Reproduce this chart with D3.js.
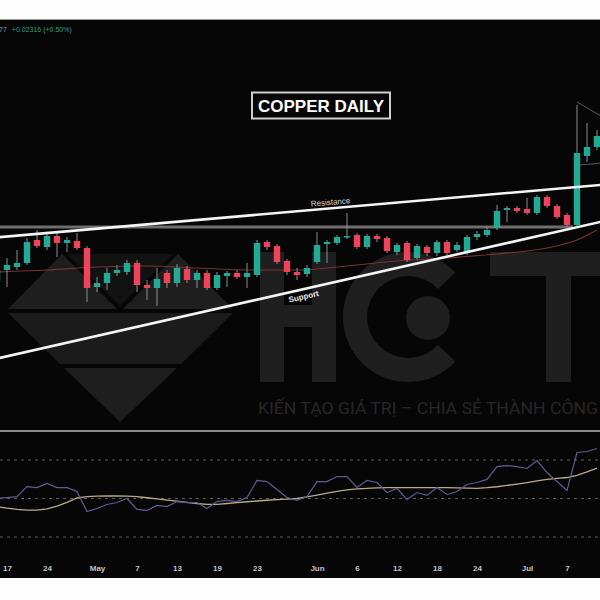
<!DOCTYPE html>
<html><head><meta charset="utf-8">
<script src="https://cdn.jsdelivr.net/npm/d3@7/dist/d3.min.js"></script>
<style>html,body{margin:0;padding:0;background:#fff;} svg{display:block;}</style>
</head><body><svg id="c" width="600" height="600"></svg>
<script>
// ---- DATA ----
const dates = ["Apr 16","Apr 17","Apr 21","Apr 22","Apr 23","Apr 24","Apr 25","Apr 28","Apr 29","Apr 30",
"May 1","May 2","May 5","May 6","May 7","May 8","May 9","May 12","May 13","May 14",
"May 15","May 16","May 19","May 20","May 21","May 22","May 23","May 26","May 27","May 28",
"May 29","May 30","Jun 2","Jun 3","Jun 4","Jun 5","Jun 6","Jun 9","Jun 10","Jun 11",
"Jun 12","Jun 13","Jun 16","Jun 17","Jun 18","Jun 19","Jun 20","Jun 23","Jun 24","Jun 25",
"Jun 26","Jun 27","Jun 30","Jul 1","Jul 2","Jul 3","Jul 4","Jul 7","Jul 8","Jul 9","Jul 10"];
const openP  = [4.695,4.75,4.765,4.785,4.9,4.865,4.92,4.885,4.895,4.86,
4.665,4.685,4.735,4.74,4.785,4.675,4.66,4.735,4.685,4.755,
4.7,4.735,4.66,4.72,4.735,4.715,4.725,4.89,4.87,4.795,
4.74,4.73,4.79,4.88,4.885,4.915,4.925,4.865,4.92,4.91,
4.84,4.885,4.81,4.865,4.835,4.89,4.85,4.835,4.915,4.925,
4.96,5.05,5.06,5.055,5.035,5.115,5.07,5.025,4.975,5.32,5.365];
const highP  = [4.775,4.81,4.85,4.91,4.95,4.935,4.935,4.915,4.935,4.87,
4.715,4.76,4.775,4.8,4.8,4.7,4.76,4.75,4.78,4.77,
4.75,4.75,4.74,4.745,4.75,4.785,4.9,4.9,4.88,4.805,
4.76,4.775,4.94,4.9,4.925,5.035,4.935,4.93,4.93,4.92,
4.885,4.895,4.88,4.875,4.9,4.9,4.89,4.925,4.945,4.965,
5.075,5.07,5.07,5.11,5.125,5.125,5.08,5.035,5.575,5.485,5.45];
const lowP   = [4.65,4.665,4.75,4.775,4.86,4.85,4.815,4.84,4.85,4.59,
4.64,4.65,4.72,4.725,4.64,4.6,4.57,4.66,4.665,4.685,
4.66,4.65,4.65,4.665,4.705,4.66,4.715,4.85,4.78,4.725,
4.7,4.715,4.78,4.785,4.875,4.905,4.855,4.855,4.89,4.835,
4.825,4.79,4.8,4.82,4.82,4.825,4.84,4.825,4.9,4.915,
4.95,4.99,5.035,5.025,5.025,5.06,5.005,4.965,4.97,5.29,5.35];
const closeP = [4.75,4.775,4.785,4.89,4.87,4.92,4.885,4.9,4.86,4.66,
4.685,4.735,4.75,4.785,4.675,4.66,4.705,4.685,4.76,4.7,
4.735,4.66,4.725,4.735,4.715,4.735,4.885,4.865,4.79,4.74,
4.725,4.76,4.875,4.89,4.915,4.92,4.865,4.92,4.905,4.845,
4.875,4.8,4.87,4.835,4.89,4.835,4.875,4.915,4.93,4.95,
5.045,5.06,5.045,5.035,5.115,5.07,5.015,4.975,5.335,5.365,5.42];
// moving average on price (read at sparse bars)
const maIdx = [0,5,10,15,20,25,30,35,40,45,50,55,58,60];
const maVal = [4.74,4.75,4.765,4.77,4.76,4.75,4.75,4.77,4.795,4.81,4.83,4.86,4.90,4.95];
// RSI and its signal line
const rsi = [50,50.5,51,56.2,55.7,57.8,55.7,55.7,53.6,43.2,
44.8,46.9,47.9,50,44.3,43.8,46.4,45.8,48.4,47.9,
47.9,44.8,48.4,49,48.4,50.5,59.4,58.8,54.7,50.5,
49,51,58.8,58.8,61.4,61.4,55.7,59.4,58.3,53.1,
55.2,49.5,53.1,51.6,55.7,52.1,53.6,57.3,58.3,59.9,
66.6,67.1,66.6,65.6,69.7,63.5,58.8,54.2,73.9,74.4,76];
const rsiMa = [45.8,45.0,44.4,44.0,44.0,44.6,46.0,48.0,50.3,51.0,
51.2,51.3,51.3,51.2,51.0,50.4,49.8,49.2,48.6,48.0,
47.4,47.0,46.9,47.4,47.9,48.3,48.7,49.1,49.4,49.7,
50.0,50.8,51.8,52.8,53.7,54.5,55.0,55.3,55.5,55.6,
55.7,55.7,55.7,55.6,55.6,55.6,55.5,55.4,55.3,55.6,
56.1,56.8,57.5,58.3,59.2,59.9,60.5,60.9,62.0,63.8,65.8];
const rsiLevels = [70,50,30];
// drawn lines [barIndex, price]
const resistance = [[-1,4.909],[61,5.178]];
const support = [[-1,4.296],[61,4.998]];
const hLevel = [[-1,4.965],[57.6,4.965]];
const spikeLineA = [[58,5.59],[60.4,5.52]];
const spikeLineB = [[58.3,5.275],[60.4,5.285]];
// axis ticks
const tickIdx = [1,5,10,14,18,22,26,32,36,40,44,48,53,57];
const tickLabels = ["17","24","May","7","13","19","23","Jun","6","12","18","24","Jul","7"];
const title = "COPPER DAILY";
const headerLast = "77";
const headerChange = "+0.02316 (+0.50%)";

// ---- DRAW ----
const svg = d3.select('#c');
svg.append('rect').attr('width',600).attr('height',600).attr('fill','#fdfdfd');
svg.append('rect').attr('x',0).attr('y',19).attr('width',600).attr('height',559).attr('fill','#060606');
svg.append('line').attr('x1',0).attr('x2',600).attr('y1',19.5).attr('y2',19.5).attr('stroke','#9a9a9a').attr('stroke-width',1);

const x = d3.scaleLinear().domain([0,60]).range([-3,597]);
const y = d3.scaleLinear().domain([3.95,6.00]).range([430,20]);
const yr = d3.scaleLinear().domain([30,70]).range([537,460]);

// watermark
const wm = svg.append('g');
const polys = [
  {p:[[8,309],[62,254],[117,309]], c:'#1e1e1e'},
  {p:[[123,309],[178,254],[233,309]], c:'#1e1e1e'},
  {p:[[67,254],[173,254],[120,306]], c:'#121212'},
  {p:[[8,313],[233,313],[181,364],[60,364]], c:'#1b1b1b'},
  {p:[[64,368],[177,368],[120,422]], c:'#1e1e1e'}
];
polys.forEach(o=>wm.append('path').attr('d','M'+o.p.map(q=>q.join(',')).join('L')+'Z').attr('fill',o.c));
const wc = '#1f1f1f';
// H
wm.append('rect').attr('x',260).attr('y',252).attr('width',24).attr('height',130).attr('fill',wc);
wm.append('rect').attr('x',312).attr('y',252).attr('width',24).attr('height',130).attr('fill',wc);
wm.append('rect').attr('x',260).attr('y',305).attr('width',76).attr('height',22).attr('fill',wc);
// C (opening to the right)
const arc = d3.arc().innerRadius(41).outerRadius(65).startAngle(Math.PI*0.74).endAngle(Math.PI*2.26);
wm.append('path').attr('d',arc()).attr('transform','translate(408,317)').attr('fill',wc);
wm.append('circle').attr('cx',428).attr('cy',318).attr('r',22).attr('fill',wc);
// T
wm.append('rect').attr('x',490).attr('y',252).attr('width',112).attr('height',24).attr('fill',wc);
wm.append('rect').attr('x',546).attr('y',252).attr('width',25).attr('height',130).attr('fill',wc);
wm.append('text').attr('x',258).attr('y',414).attr('textLength',340).attr('lengthAdjust','spacingAndGlyphs')
  .attr('font-family','Roboto, Liberation Sans, sans-serif').attr('font-size',16).attr('fill','#262626')
  .text('KIẾN TẠO GIÁ TRỊ – CHIA SẺ THÀNH CÔNG');

// price pane
const pane = svg.append('g');
const line = d3.line().x(d=>x(d[0])).y(d=>y(d[1]));
pane.append('path').attr('d',line(hLevel)).attr('stroke','#6e6e6e').attr('stroke-width',3).attr('fill','none');
pane.append('path').attr('d',d3.line().x((d,i)=>x(d)).y((d,i)=>y(maVal[i])).curve(d3.curveMonotoneX)(maIdx))
  .attr('stroke','#7a3232').attr('stroke-width',1.1).attr('fill','none');
pane.append('path').attr('d',line(spikeLineA)).attr('stroke','#5a5a5a').attr('stroke-width',1).attr('fill','none');
pane.append('path').attr('d',line(spikeLineB)).attr('stroke','#5a5a5a').attr('stroke-width',1).attr('fill','none');

const bars = d3.range(dates.length).map(i=>({i,o:openP[i],h:highP[i],l:lowP[i],c:closeP[i]}));
const up='#22ab94', dn='#f0435a';
const cg = pane.selectAll('g.c').data(bars).join('g');
cg.append('line').attr('x1',d=>x(d.i)).attr('x2',d=>x(d.i)).attr('y1',d=>y(d.h)).attr('y2',d=>y(d.l))
  .attr('stroke','#8c8c8c').attr('stroke-width',1);
cg.append('rect').attr('x',d=>x(d.i)-3.2).attr('width',6.4)
  .attr('y',d=>y(Math.max(d.o,d.c))).attr('height',d=>Math.max(1.5,Math.abs(y(d.o)-y(d.c))))
  .attr('fill',d=>d.c>=d.o?up:dn);

pane.append('path').attr('d',line(resistance)).attr('stroke','#f4f4f4').attr('stroke-width',2.6).attr('fill','none');
pane.append('path').attr('d',line(support)).attr('stroke','#f4f4f4').attr('stroke-width',2.6).attr('fill','none');

function label(seg, idx, off, txt, opts){
  const [a,b]=seg; const x1=x(a[0]),y1=y(a[1]),x2=x(b[0]),y2=y(b[1]);
  const ang=Math.atan2(y2-y1,x2-x1)*180/Math.PI;
  const px=x(idx), py=y1+(y2-y1)*(px-x1)/(x2-x1);
  pane.append('text').attr('transform',`translate(${px},${py}) rotate(${ang})`)
    .attr('y',off).attr('text-anchor','middle').attr('font-family','Liberation Sans, Arial, sans-serif')
    .attr('font-size',opts.fs).attr('font-weight',opts.fw).attr('fill',opts.fill).text(txt);
}
label(resistance, 33.4, -3.5, 'Resistance', {fs:8,fw:'normal',fill:'#d8d8d8'});
label(support, 30.5, 10, 'Support', {fs:8,fw:'bold',fill:'#e8e8e8'});

// title
svg.append('rect').attr('x',252).attr('y',92.5).attr('width',138).attr('height',26).attr('fill','#060606')
  .attr('stroke','#cfcfcf').attr('stroke-width',2);
svg.append('text').attr('x',321).attr('y',112).attr('text-anchor','middle')
  .attr('font-family','Liberation Sans, Arial, sans-serif').attr('font-weight','bold').attr('font-size',17)
  .attr('fill','#ffffff').text(title);

// header text
const ht = svg.append('text').attr('x',-1).attr('y',32).attr('font-family','Liberation Sans, Arial, sans-serif').attr('font-size',7);
ht.append('tspan').attr('fill','#9a9a9a').text(headerLast);
ht.append('tspan').attr('dx',5).attr('fill','#2f9f84').text(headerChange);

// separator
svg.append('line').attr('x1',0).attr('x2',600).attr('y1',431).attr('y2',431).attr('stroke','#8a8a8a').attr('stroke-width',1.8);

// RSI pane
rsiLevels.forEach(v=>svg.append('line').attr('x1',0).attr('x2',600).attr('y1',yr(v)).attr('y2',yr(v))
  .attr('stroke','#5e5e5e').attr('stroke-width',1).attr('stroke-dasharray','3,4'));
svg.append('path').attr('d',d3.line().x((d,i)=>x(i)).y(d=>yr(d))(rsiMa)).attr('stroke','#b9ab8c').attr('stroke-width',1.3).attr('fill','none');
svg.append('path').attr('d',d3.line().x((d,i)=>x(i)).y(d=>yr(d))(rsi)).attr('stroke','#5f5c93').attr('stroke-width',1.2).attr('fill','none');

// x axis
const ax = svg.append('g').attr('transform','translate(0,565)')
  .call(d3.axisBottom(x).tickValues(tickIdx).tickFormat((d,i)=>tickLabels[i]).tickSize(0).tickPadding(0));
ax.select('.domain').remove();
ax.selectAll('text').attr('fill','#c4c4c4').attr('font-size',8).attr('font-weight','bold')
  .attr('font-family','Liberation Sans, Arial, sans-serif');
</script></body></html>
